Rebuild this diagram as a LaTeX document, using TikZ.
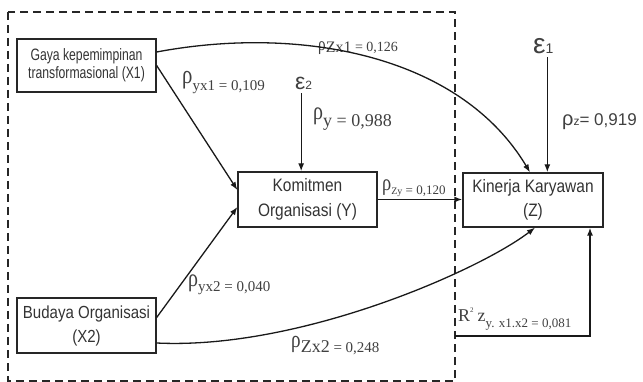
\documentclass[tikz,border=0pt]{standalone}
\usepackage{fontspec}
\setmainfont{Liberation Serif}
\newfontfamily\boxA[FakeStretch=0.74]{Liberation Sans}
\newfontfamily\boxB[FakeStretch=0.86]{Liberation Sans}
\newfontfamily\sansf{Liberation Sans}
\newfontfamily\serf[FakeStretch=0.8]{Liberation Serif}
\usetikzlibrary{arrows.meta}
\newcommand\fs[1]{\fontsize{#1}{#1}\selectfont}
\begin{document}
\begin{tikzpicture}[x=1pt,y=-1pt,
  box/.style={draw=black!85, line width=1.3pt, inner sep=0pt, align=center, text=black!80},
  conn/.style={line width=1.3pt, black!90, -{Latex[length=8pt,width=6pt]}},
  lbl/.style={inner sep=0pt, anchor=base west, text=black!75}]
\useasboundingbox (0,0) rectangle (643,382);
\draw[line width=1.6pt, dash pattern=on 8pt off 5pt, black!85] (8,12) rectangle (455,381);

\node[box, minimum width=139pt, minimum height=53pt, font={\boxA\fontsize{16.5}{18}\selectfont}] (x1) at (86.5,65.5) {Gaya kepemimpinan\\transformasional (X1)};
\node[box, minimum width=139pt, minimum height=55pt, font={\boxB\fontsize{17.5}{24}\selectfont}] (x2) at (86.5,325.5) {Budaya Organisasi\\(X2)};
\node[box, minimum width=139pt, minimum height=55pt, font={\boxB\fontsize{18}{25}\selectfont}] (y) at (307.5,199.5) {Komitmen\\Organisasi (Y)};
\node[box, minimum width=140pt, minimum height=54pt, font={\boxB\fontsize{18}{24}\selectfont}] (z) at (533,200) {Kinerja Karyawan\\(Z)};

\node[lbl] (e2) at (295,90) {\sansf\fs{23}ε\fs{12}2};
\node[lbl] (e1) at (533,54) {\sansf\fs{28}ε\fs{14}1};

\node[lbl] (l1) at (182,84) {{\serf\fs{26}ρ}\raisebox{-7pt}{\fs{15}yx1 = 0,109}};
\node[lbl] (l2) at (318,51) {{\serf\fs{19}ρ}\raisebox{-2pt}{\fs{16}Zx1}\raisebox{-1pt}{\fs{14} = 0,126}};
\node[lbl] (l3) at (313,119.5) {{\serf\fs{25}ρ}\raisebox{-7.5pt}{\fs{18}y = 0,988}};
\node[lbl] (l4) at (382,191) {{\serf\fs{23}ρ}\raisebox{-4pt}{\fs{10}Zy\fs{13} = 0,120}};
\node[lbl] (l5) at (188,286.5) {{\serf\fs{25}ρ}\raisebox{-5.5pt}{\fs{15}yx2 = 0,040}};
\node[lbl] (l6) at (291,348) {{\serf\fs{24}ρ}\raisebox{-5pt}{\fs{18}Zx2\fs{15} = 0,248}};
\node[lbl] (l7) at (458,321) {\fs{18}R\raisebox{9pt}{\fs{7}2}\hspace{4pt}z\raisebox{-6pt}{\fs{13}y. x1.x2 = 0,081}};
\node[lbl] (l8) at (562,126) {\sansf\fs{20}ρ\fs{12}z\fs{17}= 0,919};

\draw[conn] (x1.east) -- ([yshift=9.5pt]y.west);
\draw[conn] ([yshift=8pt]x2.east) -- ([yshift=-7.5pt]y.west);
\draw[conn] (y.east) -- (y.east -| z.west);
\draw[conn] ([yshift=13.5pt]x1.east) .. controls (300,25) and (460,55) .. ([xshift=-3pt]z.north);
\draw[conn] ([yshift=-17.5pt]x2.east) .. controls (300,350) and (480,270) .. ([xshift=2pt]z.south);
\draw[conn] ([xshift=-2.5pt,yshift=-3pt]e2.south) -- ([xshift=-2.5pt]e2.south |- y.north);
\draw[conn] ([xshift=4pt,yshift=-3pt]e1.south) -- ([xshift=4pt]e1.south |- z.north);
\coordinate (r0) at (455,336);
\draw[conn] (r0) -| ([xshift=57pt]z.south);
\end{tikzpicture}
\end{document}
